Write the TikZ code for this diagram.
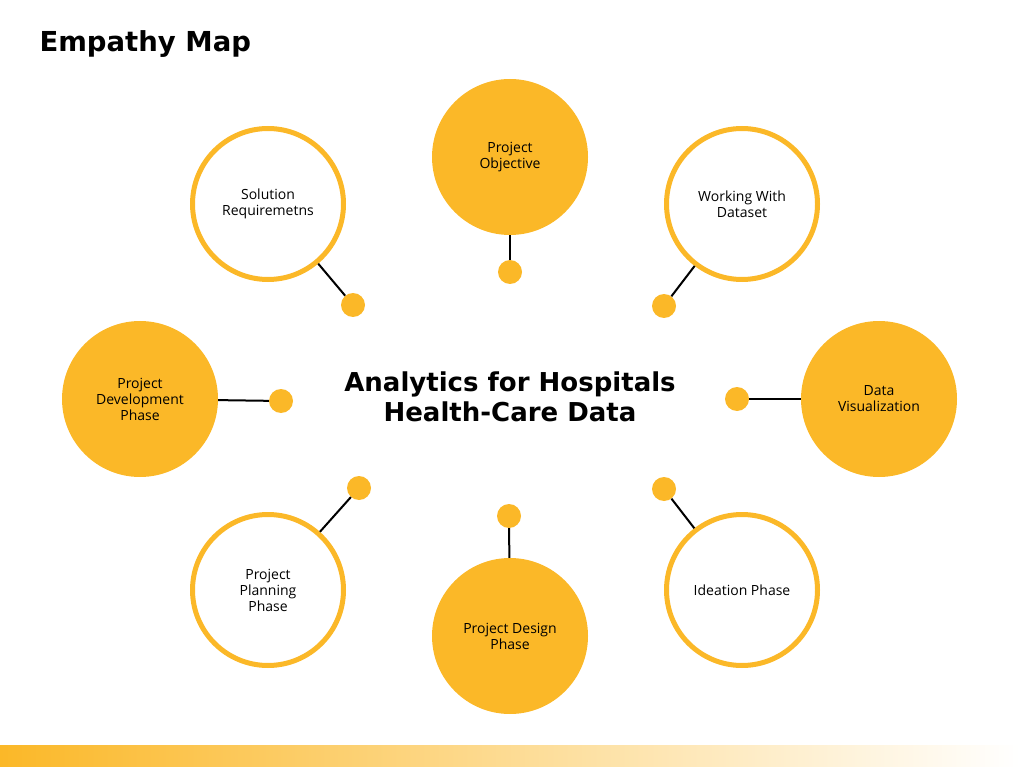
\documentclass[tikz,border=0pt]{standalone}
\usepackage{fontspec}
\setmainfont{Open Sans}
\newfontfamily\titlefont{DejaVu Sans}
\definecolor{gold}{HTML}{FBB828}
\begin{document}
\begin{tikzpicture}[x=1pt,y=-1pt,
  filledc/.style={circle,fill=gold,minimum size=156pt,inner sep=0pt,align=center,font=\fontsize{14}{16}\selectfont},
  ringc/.style={circle,draw=gold,line width=5pt,fill=white,minimum size=151pt,inner sep=0pt,align=center,font=\fontsize{14}{16}\selectfont},
  dot/.style={circle,fill=gold,minimum size=24pt,inner sep=0pt},
  conn/.style={line width=2pt,black}]
\useasboundingbox (0,0) rectangle (1020,767);
\shade[left color=gold,right color=white] (0,745) rectangle (1020,767);
\node[anchor=west,font=\titlefont\bfseries\fontsize{27.5}{32}\selectfont] (title) at (36,44) {Empathy Map};
\node[align=center,font=\titlefont\bfseries\fontsize{26}{30}\selectfont] (center) at (510,397) {Analytics for Hospitals\\Health-Care Data};

\node[filledc] (c1) at (510,157) {Project\\Objective};
\node[dot] (d1) at (510,272) {};
\node[ringc] (c2) at (268,204) {Solution\\Requiremetns};
\node[dot] (d2) at (353,305) {};
\node[ringc] (c3) at (742,204) {Working With\\Dataset};
\node[dot] (d3) at (664,306) {};
\node[filledc] (c4) at (140,399) {Project\\Development\\Phase};
\node[dot] (d4) at (281,401) {};
\node[filledc] (c5) at (879,399) {Data\\Visualization};
\node[dot] (d5) at (737,399) {};
\node[ringc] (c6) at (268,590) {Project\\Planning\\Phase};
\node[dot] (d6) at (359,488) {};
\node[filledc] (c7) at (510,636) {Project Design\\Phase};
\node[dot] (d7) at (509,516) {};
\node[ringc] (c8) at (742,590) {Ideation Phase};
\node[dot] (d8) at (664,489) {};

\foreach \i in {1,...,8} {\draw[conn] (c\i) -- (d\i);}
\end{tikzpicture}
\end{document}
